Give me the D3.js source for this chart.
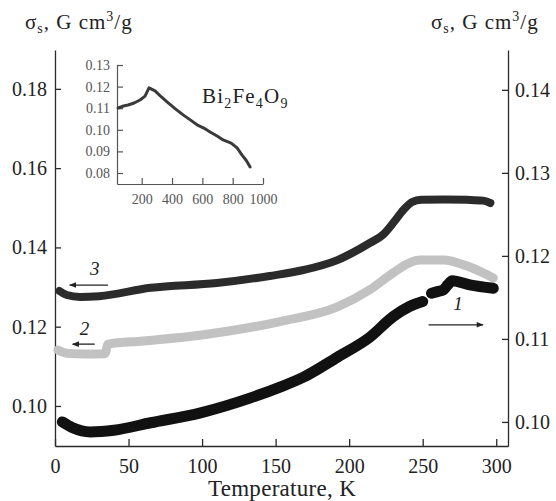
<!DOCTYPE html>
<html>
<head>
<meta charset="utf-8">
<script src="https://cdn.jsdelivr.net/npm/d3@7.9.0/dist/d3.min.js"></script>
<style>
  body { margin: 0; background: #fff; }
  svg { display: block; font-family: "Liberation Serif", "Times New Roman", serif; }
  .axis path, .axis line { stroke: #2a2a2a; stroke-width: 1.3; }
  .axis text { fill: #222; font-size: 20px; font-family: "Liberation Serif", serif; }
  .inset .axis path, .inset .axis line { stroke: #555; stroke-width: 1.2; }
  .inset .axis text { fill: #555; font-size: 14px; }
</style>
</head>
<body>
<svg id="chart" width="556" height="501"></svg>
<script>
// Curve 1 (right axis), measured in two pieces with a gap near 252 K
const temp1a = [5, 12, 24, 40, 65, 99, 133, 153, 169, 192, 214, 230, 241, 250];
const sigma1a = [0.1000, 0.0993, 0.0988, 0.0990, 0.0999, 0.1011, 0.1029, 0.1042, 0.1054, 0.1078, 0.1102, 0.1127, 0.1139, 0.1145];
const temp1b = [256, 260, 264, 267, 270, 282, 298];
const sigma1b = [0.1155, 0.1157, 0.1159, 0.1165, 0.1170, 0.1165, 0.1161];

// Curve 2 (left axis, grey)
const temp2 = [2, 8, 20, 34, 36, 60, 100, 153, 192, 214, 230, 241, 248, 264, 278, 291, 298];
const sigma2 = [0.1141, 0.1133, 0.1131, 0.1132, 0.1156, 0.1164, 0.1179, 0.1213, 0.1250, 0.1293, 0.1336, 0.1361, 0.1368, 0.1368, 0.1356, 0.1336, 0.1323];

// Curve 3 (left axis)
const temp3 = [3, 8, 17, 30, 65, 110, 146, 169, 192, 214, 223, 230, 237, 243, 249, 265, 280, 291, 296];
const sigma3 = [0.1290, 0.1280, 0.1275, 0.1277, 0.1298, 0.1310, 0.1328, 0.1343, 0.1368, 0.1411, 0.1432, 0.1462, 0.1495, 0.1515, 0.1520, 0.1521, 0.1520, 0.1518, 0.1512];

// Inset: Bi2Fe4O9 up to 1000 K
const tempInset = [44, 80, 110, 150, 189, 222, 248, 288, 330, 367, 420, 473, 520, 565, 610, 651, 700, 737, 790, 829, 862, 890, 915];
const sigmaInset = [0.1101, 0.1110, 0.1115, 0.1124, 0.1138, 0.1156, 0.1194, 0.1180, 0.1152, 0.1129, 0.1098, 0.1069, 0.1046, 0.1023, 0.1008, 0.0990, 0.0970, 0.0953, 0.0938, 0.0916, 0.0883, 0.0858, 0.0828];

const xTicks = [0, 50, 100, 150, 200, 250, 300];
const leftTicks = [0.10, 0.12, 0.14, 0.16, 0.18];
const rightTicks = [0.10, 0.11, 0.12, 0.13, 0.14];
const insetXTicks = [200, 400, 600, 800, 1000];
const insetYTicks = [0.08, 0.09, 0.10, 0.11, 0.12, 0.13];

const svg = d3.select('#chart');

const x = d3.scaleLinear([0, 308], [55, 508]);
const yL = d3.scaleLinear([0.0899, 0.1898], [446, 50]);
const yR = d3.scaleLinear([0.0971, 0.1448], [446, 50]);

// arrowheads
const defs = svg.append('defs');
defs.append('marker')
    .attr('id', 'head')
    .attr('viewBox', '0 0 10 10')
    .attr('refX', 9).attr('refY', 5)
    .attr('markerWidth', 9).attr('markerHeight', 7)
    .attr('markerUnits', 'userSpaceOnUse')
    .attr('orient', 'auto')
    .append('path')
    .attr('d', 'M0,1 L10,5 L0,9 Z')
    .attr('fill', '#222');

// axes
svg.append('g').attr('class', 'axis')
    .attr('transform', 'translate(0,446)')
    .call(d3.axisBottom(x).tickValues(xTicks).tickSizeInner(-7).tickSizeOuter(0).tickPadding(13));

svg.append('g').attr('class', 'axis')
    .attr('transform', 'translate(55,0)')
    .call(d3.axisLeft(yL).tickValues(leftTicks).tickFormat(d3.format('.2f')).tickSizeInner(-6).tickSizeOuter(0).tickPadding(8));

svg.append('g').attr('class', 'axis')
    .attr('transform', 'translate(508,0)')
    .call(d3.axisRight(yR).tickValues(rightTicks).tickFormat(d3.format('.2f')).tickSizeInner(-6).tickSizeOuter(0).tickPadding(7));

// curves
const lineL = d3.line().x(d => x(d[0])).y(d => yL(d[1])).curve(d3.curveMonotoneX);
const lineR = d3.line().x(d => x(d[0])).y(d => yR(d[1])).curve(d3.curveMonotoneX);

svg.append('path')
    .attr('d', lineL(d3.zip(temp2, sigma2)))
    .attr('fill', 'none').attr('stroke', '#c2c2c2')
    .attr('stroke-width', 9).attr('stroke-linecap', 'round').attr('stroke-linejoin', 'round');

svg.append('path')
    .attr('d', lineL(d3.zip(temp3, sigma3)))
    .attr('fill', 'none').attr('stroke', '#2b2b2b')
    .attr('stroke-width', 8).attr('stroke-linecap', 'round').attr('stroke-linejoin', 'round');

[[temp1a, sigma1a], [temp1b, sigma1b]].forEach(([t, s]) => {
    svg.append('path')
        .attr('d', lineR(d3.zip(t, s)))
        .attr('fill', 'none').attr('stroke', '#111')
        .attr('stroke-width', 11).attr('stroke-linecap', 'round').attr('stroke-linejoin', 'round');
});

// curve labels with arrows
const notes = [
    { label: '3', from: [36, 0.1305], to: [10, 0.1305], at: [27, 0.1330], y: yL },
    { label: '2', from: [27, 0.1156], to: [12, 0.1156], at: [20, 0.1180], y: yL },
    { label: '1', from: [254, 0.1117], to: [291, 0.1117], at: [274, 0.1135], y: yR }
];
notes.forEach(n => {
    svg.append('line')
        .attr('x1', x(n.from[0])).attr('y1', n.y(n.from[1]))
        .attr('x2', x(n.to[0])).attr('y2', n.y(n.to[1]))
        .attr('stroke', '#222').attr('stroke-width', 1.3)
        .attr('marker-end', 'url(#head)');
    svg.append('text')
        .attr('x', x(n.at[0])).attr('y', n.y(n.at[1]))
        .attr('text-anchor', 'middle')
        .attr('font-size', 19).attr('font-style', 'italic').attr('fill', '#222')
        .text(n.label);
});

// axis titles
function sigmaTitle(xPos) {
    const t = svg.append('text')
        .attr('x', xPos).attr('y', 29)
        .attr('font-size', 21).attr('letter-spacing', 1).attr('fill', '#222');
    t.append('tspan').text('σ');
    t.append('tspan').attr('font-size', 14).attr('dy', 4).text('s');
    t.append('tspan').attr('dy', -4).text(', G cm');
    t.append('tspan').attr('font-size', 14).attr('dy', -8).text('3');
    t.append('tspan').attr('dy', 8).text('/g');
}
sigmaTitle(25);
sigmaTitle(431);

svg.append('text')
    .attr('x', 282).attr('y', 496)
    .attr('text-anchor', 'middle')
    .attr('font-size', 23).attr('letter-spacing', 0.3).attr('fill', '#222')
    .text('Temperature, K');

// inset
const inset = svg.append('g').attr('class', 'inset');
const xi = d3.scaleLinear([37, 1000], [117, 263]);
const yi = d3.scaleLinear([0.0749, 0.13], [184, 65]);

inset.append('g').attr('class', 'axis')
    .attr('transform', 'translate(0,184)')
    .call(d3.axisBottom(xi).tickValues(insetXTicks).tickFormat(d3.format('d')).tickSizeInner(-6).tickSizeOuter(0).tickPadding(10));

inset.append('g').attr('class', 'axis')
    .attr('transform', 'translate(117,0)')
    .call(d3.axisLeft(yi).tickValues(insetYTicks).tickFormat(d3.format('.2f')).tickSizeInner(-6).tickSizeOuter(0).tickPadding(7));

inset.append('path')
    .attr('d', d3.line().x(d => xi(d[0])).y(d => yi(d[1]))(d3.zip(tempInset, sigmaInset)))
    .attr('fill', 'none').attr('stroke', '#3a3a3a')
    .attr('stroke-width', 3).attr('stroke-linejoin', 'round').attr('stroke-linecap', 'round');

const formula = inset.append('text')
    .attr('x', 202).attr('y', 103)
    .attr('font-size', 21).attr('letter-spacing', 1.2).attr('fill', '#222');
formula.append('tspan').text('Bi');
formula.append('tspan').attr('font-size', 14).attr('dy', 5).text('2');
formula.append('tspan').attr('dy', -5).text('Fe');
formula.append('tspan').attr('font-size', 14).attr('dy', 5).text('4');
formula.append('tspan').attr('dy', -5).text('O');
formula.append('tspan').attr('font-size', 14).attr('dy', 5).text('9');
</script>
</body>
</html>
